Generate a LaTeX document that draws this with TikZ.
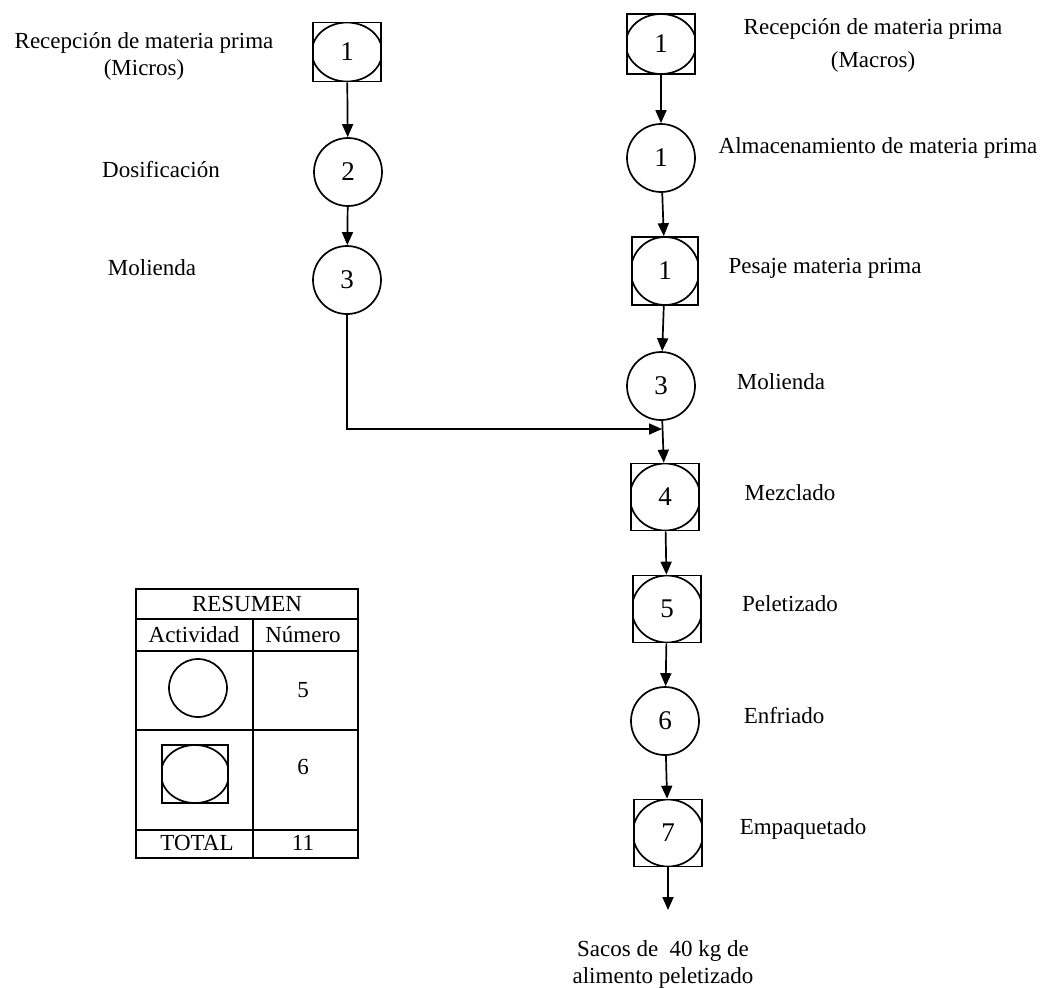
\documentclass[tikz,border=0pt]{standalone}
\usepackage{fontspec}
\setmainfont{Liberation Serif}
\usetikzlibrary{arrows.meta,calc}

\begin{document}
\begin{tikzpicture}[x=0.5pt,y=-0.5pt,line width=0.85pt,
    font=\fontsize{11.5}{13.5}\selectfont,
    oper/.style={draw,circle,minimum size=34pt,inner sep=0pt,font=\fontsize{13.5}{15}\selectfont},
    opbox/.style={draw,rectangle,minimum width=34pt,minimum height=33.5pt,inner sep=0pt,
        font=\fontsize{13.5}{15}\selectfont,
        path picture={\draw let \p1=($(path picture bounding box.north east)-(path picture bounding box.center)$)
            in (path picture bounding box.center) ellipse ({\x1+0.6pt} and {\y1});}},
    flow/.style={-{Triangle[length=6.5pt,width=5.5pt]}}]
                \useasboundingbox (0,0) rectangle (1048,987);

                \node[opbox,minimum height=29.5pt] (l1) at (347,52) {1};
                \node[oper] (l2) at (348,172) {2};
                \node[oper] (l3) at (347,280) {3};

                \node[opbox,minimum height=30pt] (r1) at (661,44) {1};
                \node[oper] (r2) at (661,158) {1};
                \node[opbox,minimum width=33pt,minimum height=34pt] (r3) at (665,271) {1};
                \node[oper] (r4) at (661,386) {3};
                \node[opbox] (r5) at (665,497) {4};
                \node[opbox] (r6) at (667,609) {5};
                \node[oper] (r7) at (665,721) {6};
                \node[opbox] (r8) at (668,833) {7};
                \coordinate (jn) at (662,429);
                \coordinate (fin) at (668,910);

                \node[align=center] (recmic) at (144,56) {Recepción de materia prima\\(Micros)};
                \node (dosif) at (161,170) {Dosificación};
                \node (moll) at (152,268) {Molienda};
                \node[align=center] (recmac) at (873,45) {Recepción de materia prima\\[3pt](Macros)};
                \node (alm) at (878,148) {Almacenamiento de materia prima};
                \node (pes) at (825,268) {Pesaje materia prima};
                \node (molr) at (781,382) {Molienda};
                \node (mez) at (790,493) {Mezclado};
                \node (pel) at (790,604) {Peletizado};
                \node (enf) at (784,715) {Enfriado};
                \node (emp) at (803,829) {Empaquetado};
                \node[align=center] (sacos) at (663,964) {Sacos de\ \ 40 kg de\\alimento peletizado};

                \draw[flow] (l1) to (l2);
                \draw[flow] (l2) to (l3);
                \draw[flow] (l3) |- (jn);
                \draw[flow] (r1) to (r2);
                \draw[flow] (r2) to (r3);
                \draw[flow] (r3) to (r4);
                \draw[flow] (r4) to (r5);
                \draw[flow] (r5) to (r6);
                \draw[flow] (r6) to (r7);
                \draw[flow] (r7) to (r8);
                \draw[flow] (r8) to (fin);

                \draw (136,589) rectangle (358,858);
                \draw (136,619) -- (358,619);
                \draw (136,651) -- (358,651);
                \draw (136,730) -- (358,730);
                \draw (136,830) -- (358,830);
                \draw (253,619) -- (253,858);
                \node (resumen) at (247,604) {RESUMEN};
                \node (act) at (194,635) {Actividad};
                \node (num) at (303,635) {Número};
                \node[oper,minimum size=29pt] (tcirc) at (198,688) {};
                \node[opbox,minimum width=33pt,minimum height=29pt] (tbox) at (195,774) {};
                \node (n5) at (303,690) {5};
                \node (n6) at (303,767) {6};
                \node (total) at (197,843) {TOTAL};
                \node (n11) at (303,843) {11};
            \end{tikzpicture}
\end{document}
